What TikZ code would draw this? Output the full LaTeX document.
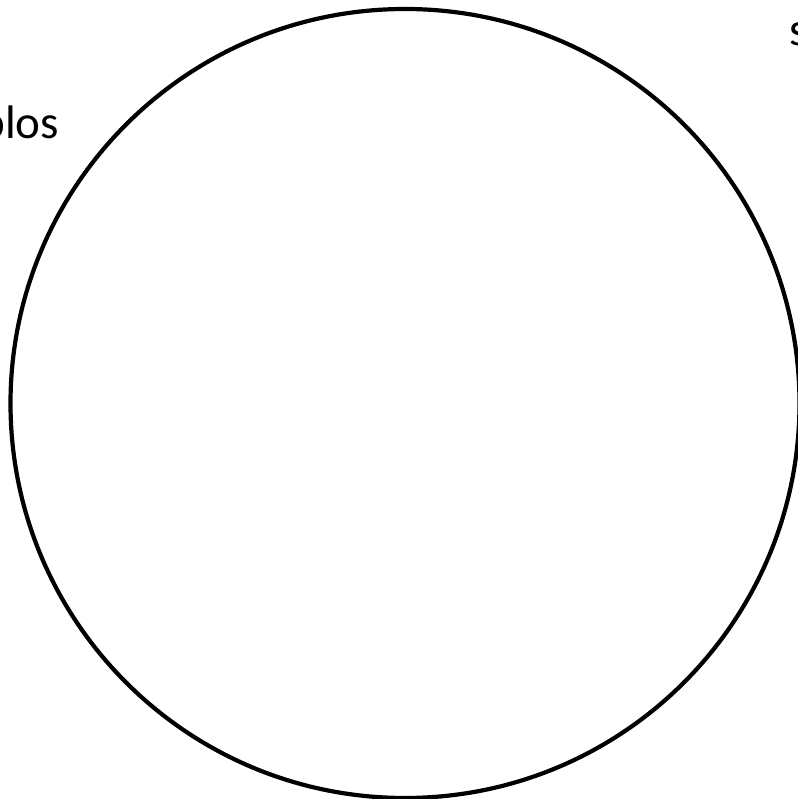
\documentclass[tikz,border=0pt]{standalone}
\usepackage{fontspec}
\setmainfont{Carlito}
\begin{document}
\begin{tikzpicture}[x=1pt,y=1pt,
  lbl/.style={inner sep=0pt,outer sep=0pt,font=\fontsize{47}{56}\selectfont}]
\useasboundingbox (0,0) rectangle (797,799);
\node[draw=black,line width=4.2pt,circle,minimum size=789pt,inner sep=0pt] (ring) at (405,395.5) {};
\node[lbl,anchor=base east] (left) at (59,660) {blos};
\node[lbl,anchor=base west] (right) at (789,753) {s};
\end{tikzpicture}
\end{document}
